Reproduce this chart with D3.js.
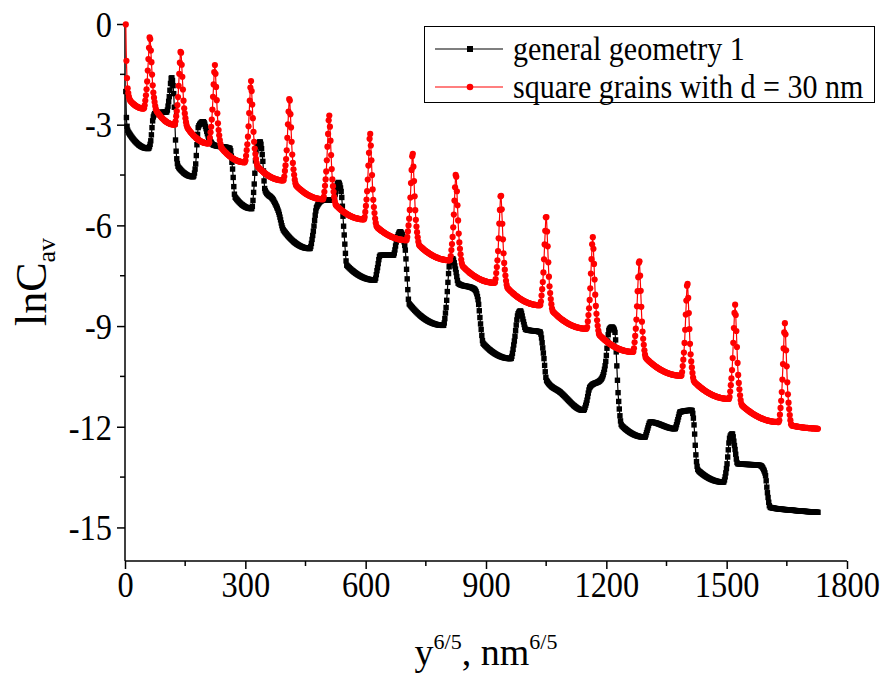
<!DOCTYPE html>
<html>
<head>
<meta charset="utf-8">
<script src="https://cdn.jsdelivr.net/npm/d3@7"></script>
<style>
  body { margin: 0; background: #fff; }
  svg text { font-family: "Liberation Serif", "Times New Roman", serif; fill: #000; }
</style>
</head>
<body>
<div id="chart"></div>
<script>
// series: general geometry 1 (black)
var blackX = [2, 4, 8, 58, 64, 70, 76, 104, 110, 116, 121, 127, 133, 170, 176, 183, 195, 208, 220, 262,
  268, 274, 316, 322, 328, 337, 343, 349, 370, 383, 395, 461, 468, 478, 494, 519, 532, 539, 546, 553,
  623, 629, 636, 669, 678, 686, 698, 703, 708, 794, 800, 810, 817, 824, 831, 871, 880, 887, 893, 962,
  970, 980, 986, 993, 999, 1035, 1043, 1051, 1085, 1143, 1150, 1159, 1188, 1198, 1207, 1214, 1221, 1230, 1238, 1296,
  1302, 1309, 1371, 1378, 1384, 1413, 1419, 1423, 1429, 1492, 1500, 1508, 1514, 1520, 1527, 1583, 1596, 1602, 1608, 1666, 1729];
var blackY = [-2.0, -2.9, -3.21, -3.71, -3.5, -2.8, -2.65, -2.62, -2.2, -1.59, -2.0, -3.7, -4.26, -4.55, -4.2, -3.06, -2.91, -3.36, -3.6, -3.71,
  -4.3, -5.15, -5.5, -4.8, -3.66, -3.51, -4.0, -4.95, -5.25, -5.6, -6.14, -6.69, -6.3, -5.45, -5.25, -5.25, -4.72, -5.0, -6.2, -7.19,
  -7.63, -7.3, -6.89, -6.89, -6.4, -6.19, -6.64, -7.5, -8.33, -8.98, -8.5, -7.1, -6.99, -7.3, -7.73, -7.9, -8.2, -9.0, -9.52, -9.97,
  -9.5, -8.63, -8.55, -8.85, -9.1, -9.18, -9.8, -10.62, -10.97, -11.51, -11.3, -10.82, -10.57, -10.1, -9.1, -9.03, -9.15, -11.12, -11.96, -12.31,
  -12.1, -11.86, -12.06, -11.8, -11.56, -11.51, -12.0, -12.8, -13.3, -13.65, -13.2, -12.3, -12.21, -12.6, -13.1, -13.15, -13.4, -14.0, -14.4, -14.49, -14.55];

// series: square grains with d = 30 nm (red)
var redX = [2, 3, 5, 8, 14,
  47, 51, 55, 59, 62, 65, 69, 73, 79,
  124, 128, 132, 136, 139, 142, 146, 150, 156,
  209, 213, 217, 221, 224, 227, 231, 235, 241,
  299, 303, 307, 311, 314, 317, 321, 325, 331,
  395, 399, 403, 407, 410, 413, 417, 421, 427,
  494, 498, 502, 506, 509, 512, 516, 520, 526,
  596, 600, 604, 608, 611, 614, 618, 622, 628,
  702, 706, 710, 714, 717, 720, 724, 728, 734,
  810, 814, 818, 822, 825, 828, 832, 836, 842,
  922, 926, 930, 934, 937, 940, 944, 948, 954,
  1035, 1039, 1043, 1047, 1050, 1053, 1057, 1061, 1067,
  1151, 1155, 1159, 1163, 1166, 1169, 1173, 1177, 1183,
  1267, 1271, 1275, 1279, 1282, 1285, 1289, 1293, 1299,
  1387, 1391, 1395, 1399, 1402, 1405, 1409, 1413, 1419,
  1506, 1510, 1514, 1518, 1521, 1524, 1528, 1532, 1538,
  1630, 1634, 1638, 1642, 1645, 1648, 1652, 1656, 1662,
  1729];
var redY = [0, -0.8, -1.6, -2.05, -2.3,
  -2.52, -2.24, -1.76, -0.90, -0.36, -0.92, -1.82, -2.26, -2.6,
  -3.0, -2.71, -2.22, -1.33, -0.78, -1.36, -2.29, -2.75, -3.1,
  -3.56, -3.26, -2.74, -1.80, -1.22, -1.84, -2.83, -3.33, -3.7,
  -4.12, -3.80, -3.27, -2.30, -1.69, -2.33, -3.35, -3.87, -4.25,
  -4.66, -4.34, -3.80, -2.81, -2.19, -2.85, -3.90, -4.43, -4.82,
  -5.22, -4.89, -4.34, -3.34, -2.71, -3.38, -4.46, -5.00, -5.4,
  -5.82, -5.49, -4.92, -3.90, -3.26, -3.96, -5.07, -5.63, -6.05,
  -6.44, -6.10, -5.53, -4.48, -3.83, -4.52, -5.63, -6.18, -6.6,
  -7.04, -6.70, -6.13, -5.10, -4.45, -5.14, -6.25, -6.80, -7.22,
  -7.71, -7.36, -6.78, -5.71, -5.05, -5.75, -6.88, -7.45, -7.87,
  -8.38, -8.03, -7.43, -6.35, -5.68, -6.40, -7.56, -8.14, -8.57,
  -9.08, -8.72, -8.12, -7.02, -6.34, -7.07, -8.24, -8.83, -9.27,
  -9.77, -9.41, -8.80, -7.70, -7.01, -7.75, -8.93, -9.52, -9.96,
  -10.48, -10.12, -9.50, -8.39, -7.69, -8.43, -9.62, -10.21, -10.66,
  -11.17, -10.80, -10.19, -9.06, -8.36, -9.11, -10.31, -10.91, -11.36,
  -11.86, -11.48, -10.83, -9.65, -8.91, -9.67, -10.89, -11.50, -11.96,
  -12.06];

var xTicks = [0, 300, 600, 900, 1200, 1500, 1800];
var xMinor = [150, 450, 750, 1050, 1350, 1650];
var yTicks = [0, -3, -6, -9, -12, -15];
var yMinor = [-1.5, -4.5, -7.5, -10.5, -13.5];
var legendLabels = ["general geometry 1", "square grains with d = 30 nm"];
var seriesColors = ["#000000", "#ff0000"];

var W = 882, H = 678;
var plotL = 125, plotR = 847, plotT = 24, plotB = 561;
var squeeze = 0.9; // the original font is a little narrow

var svg = d3.select("#chart").append("svg")
  .attr("width", W).attr("height", H);

var x = d3.scaleLinear().domain([0, 1800]).range([plotL, plotR]);
var y = d3.scaleLinear().domain([-16, 0]).range([plotB, plotT]);

// axes
var xAxis = svg.append("g").attr("transform", "translate(0," + plotB + ")")
  .call(d3.axisBottom(x).tickValues(xTicks).tickSize(8).tickPadding(1).tickFormat(function (d) { return String(d); }));
xAxis.append("g").selectAll("line").data(xMinor).enter().append("line")
  .attr("x1", x).attr("x2", x).attr("y1", 0).attr("y2", 5).attr("stroke", "#000").attr("stroke-width", 1.5);

var yAxis = svg.append("g").attr("transform", "translate(" + plotL + ",0)")
  .call(d3.axisLeft(y).tickValues(yTicks).tickSize(8).tickPadding(5).tickFormat(function (d) { return String(d); }));
yAxis.append("g").selectAll("line").data(yMinor).enter().append("line")
  .attr("y1", y).attr("y2", y).attr("x1", 0).attr("x2", -5).attr("stroke", "#000").attr("stroke-width", 1.5);

svg.selectAll(".domain").attr("stroke", "#000").attr("stroke-width", 1.5)
svg.selectAll(".tick line").attr("stroke", "#000").attr("stroke-width", 1.5);
svg.selectAll(".tick text").style("font-size", "36px").style("font-family", "Liberation Serif")
  .attr("transform", "scale(" + squeeze + ",1)");
xAxis.selectAll(".tick text").attr("dy", "0.74em");
yAxis.selectAll(".tick text").attr("dy", "0.34em").attr("x", -13 / squeeze);
// the domain path draws outer ticks; replace with plain lines
xAxis.select(".domain").attr("d", "M" + plotL + ",0H" + plotR);
yAxis.select(".domain").attr("d", "M0," + plotT + "V" + plotB);

// axis titles
var xt = svg.append("text").attr("x", (plotL + plotR) / 2).attr("y", 665)
  .attr("text-anchor", "middle").style("font-size", "38px");
xt.append("tspan").text("y");
xt.append("tspan").attr("dy", -16).style("font-size", "22px").text("6/5");
xt.append("tspan").attr("dy", 16).text(", nm");
xt.append("tspan").attr("dy", -16).style("font-size", "22px").text("6/5");

var yt = svg.append("text").attr("transform", "translate(46,282) rotate(-90)")
  .attr("text-anchor", "middle").style("font-size", "44px");
yt.append("tspan").text("lnC");
yt.append("tspan").attr("dy", 9).style("font-size", "26px").text("av");

// curves
var line = d3.line().x(function (d) { return x(d[0]); }).y(function (d) { return y(d[1]); })
  .curve(d3.curveMonotoneX);

var blackData = blackX.map(function (v, i) { return [v, blackY[i]]; });
var redData = redX.map(function (v, i) { return [v, redY[i]]; });

function drawSeries(data, color, shape) {
  var path = svg.append("path").datum(data)
    .attr("d", line).attr("fill", "none")
    .attr("stroke", color).attr("stroke-width", 1.2);
  // markers placed along the drawn curve at even x steps
  var node = path.node(), len = node.getTotalLength(), pts = [], nextX = x(data[0][0]);
  for (var l = 0; l <= len; l += 0.4) {
    var p = node.getPointAtLength(l);
    if (p.x >= nextX) { pts.push(p); nextX = p.x + 0.6; }
  }
  var g = svg.append("g");
  if (shape === "square") {
    g.selectAll("rect").data(pts).enter().append("rect")
      .attr("x", function (d) { return d.x - 2.7; }).attr("y", function (d) { return d.y - 2.7; })
      .attr("width", 5.4).attr("height", 5.4).attr("fill", color);
  } else {
    g.selectAll("circle").data(pts).enter().append("circle")
      .attr("cx", function (d) { return d.x; }).attr("cy", function (d) { return d.y; })
      .attr("r", 3.1).attr("fill", color);
  }
}
drawSeries(blackData, seriesColors[0], "square");
drawSeries(redData, seriesColors[1], "circle");

// legend
var lg = svg.append("g");
lg.append("rect").attr("x", 424.5).attr("y", 26.5).attr("width", 450).attr("height", 76)
  .attr("fill", "#fff").attr("stroke", "#000").attr("stroke-width", 1);
legendLabels.forEach(function (lab, i) {
  var ly = 49 + i * 38;
  lg.append("line").attr("x1", 435).attr("x2", 503).attr("y1", ly).attr("y2", ly)
    .attr("stroke", seriesColors[i]).attr("stroke-width", 1.2);
  if (i === 0) {
    lg.append("rect").attr("x", 467).attr("y", ly - 3).attr("width", 6).attr("height", 6).attr("fill", seriesColors[i]);
  } else {
    lg.append("circle").attr("cx", 470).attr("cy", ly).attr("r", 3.3).attr("fill", seriesColors[i]);
  }
  lg.append("text").attr("transform", "translate(513," + (ly + 11) + ") scale(0.91,1)")
    .style("font-size", "33px").text(lab);
});
</script>
</body>
</html>
